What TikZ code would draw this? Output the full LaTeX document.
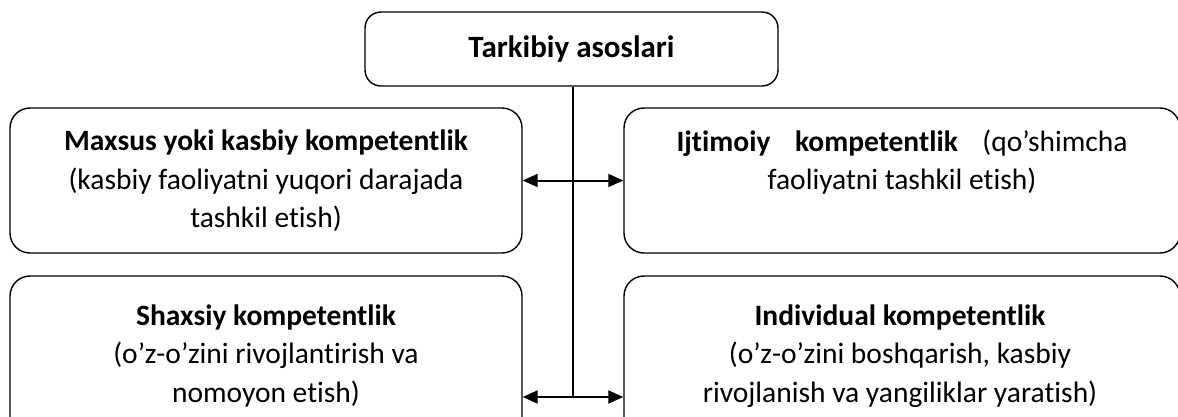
\documentclass[tikz,border=0pt]{standalone}
\usepackage{fontspec}
\setmainfont{Carlito}[Ligatures={NoCommon}]
\usetikzlibrary{arrows.meta}
\begin{document}
\begin{tikzpicture}[x=1pt,y=-1pt,
  box/.style={draw=black,line width=1.4pt,rounded corners=20pt,fill=white,inner sep=0pt},
  txt/.style={align=center,inner sep=0pt,font=\fontsize{29.5}{38.5}\selectfont},
  link/.style={line width=2pt,{Triangle[length=15pt,width=13pt]}-{Triangle[length=15pt,width=13pt]}},
  stem/.style={line width=1.2pt}]
\useasboundingbox (0,0) rectangle (1178,416);
\fill[white] (0,0) rectangle (1178,416);
\clip (0,0) rectangle (1178,416);
% frames
\node[box,rounded corners=16pt,minimum width=413pt,minimum height=74pt] (top) at (571.5,49) {};
\node[box,minimum width=512pt,minimum height=145pt] (lb1) at (266,180.5) {};
\node[box,minimum width=556pt,minimum height=145pt] (rb1) at (902,180.5) {};
\node[box,minimum width=512pt,minimum height=170pt] (lb2) at (266,361) {};
\node[box,minimum width=556pt,minimum height=170pt] (rb2) at (902,361) {};
% texts
\node[txt,font=\fontsize{31}{38.5}\selectfont] (tt) at (top.center) {\textbf{Tarkibiy asoslari}};
\node[txt] (t1) at (266,181) {\textbf{Maxsus yoki kasbiy kompetentlik}\\(kasbiy faoliyatni yuqori darajada\\tashkil etish)};
\node[txt] (t2) at (902,162) {\makebox[451pt][s]{\textbf{Ijtimoiy kompetentlik} (qo’shimcha}\\faoliyatni tashkil etish)};
\node[txt] (t3) at (266,356) {\textbf{Shaxsiy kompetentlik}\\(o’z-o’zini rivojlantirish va\\nomoyon etish)};
\node[txt] (t4) at (900,356) {\textbf{Individual kompetentlik}\\(o’z-o’zini boshqarish, kasbiy\\rivojlanish va yangiliklar yaratish)};
% connectors
\coordinate (vtop) at (573,86);
\coordinate (vbot) at (573,397);
\draw[stem] (top.south -| vtop) -- (vbot);
\draw[link] (lb1.east) -- (rb1.west);
\draw[link] (lb2.east |- vbot) -- (rb2.west |- vbot);
\end{tikzpicture}
\end{document}
